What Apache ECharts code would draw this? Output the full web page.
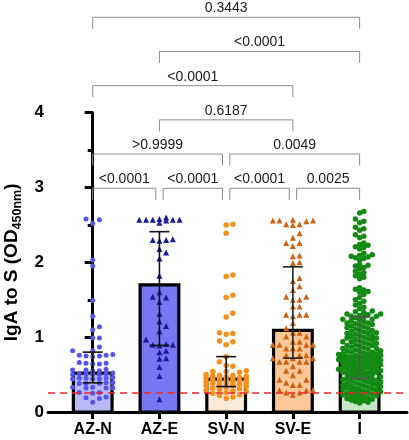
<!DOCTYPE html>
<html><head><meta charset="utf-8">
<script src="https://cdn.jsdelivr.net/npm/echarts@6/dist/echarts.min.js"></script>
<style>html,body{margin:0;padding:0;background:#fff}#c{width:409px;height:440px}</style>
</head><body><div id="c"></div>
<script>
// ---------------- data ----------------
const categories = ['AZ-N', 'AZ-E', 'SV-N', 'SV-E', 'I'];
const barValues = [0.52, 1.70, 0.44, 1.09, 0.73];
const errLow = [0.39, 0.89, 0.34, 0.72, 0.45];
const errHigh = [0.80, 2.41, 0.74, 1.94, 1.27];
const cutoff = 0.26;
const yTickValues = [0, 1, 2, 3, 4];

const ptsAZN = [2.58, 2.57, 2.52, 2.03, 1.95, 1.49, 1.28, 1.14, 1.10, 0.99, 0.99, 0.87, 0.82, 0.82,
  0.77, 0.76, 0.76, 0.75, 0.75, 0.74, 0.66, 0.65, 0.65, 0.64, 0.64, 0.57, 0.56, 0.56, 0.55, 0.55,
  0.52, 0.51, 0.51, 0.51, 0.50, 0.50, 0.50, 0.46, 0.45, 0.45, 0.45, 0.44, 0.44, 0.44, 0.39, 0.39,
  0.38, 0.38, 0.38, 0.33, 0.33, 0.32, 0.32, 0.32, 0.26, 0.26, 0.25, 0.20, 0.19, 0.18, 0.13];
const ptsAZE = [2.60, 2.58, 2.57, 2.57, 2.57, 2.57, 2.57, 2.56, 2.53, 2.31, 2.30, 2.30, 2.29, 2.18,
  2.13, 2.05, 1.82, 1.60, 1.54, 1.53, 1.47, 1.31, 1.21, 1.15, 1.08, 0.97, 0.91, 0.90, 0.90, 0.89,
  0.82, 0.80, 0.72, 0.71, 0.60, 0.48, 0.17];
const ptsSVN = [2.51, 2.50, 2.39, 1.83, 1.81, 1.56, 1.53, 1.32, 1.27, 1.06, 1.05, 1.04, 0.95, 0.94,
  0.90, 0.74, 0.67, 0.62, 0.61, 0.55, 0.54, 0.54, 0.53, 0.50, 0.49, 0.49, 0.48, 0.48, 0.47, 0.46,
  0.45, 0.45, 0.44, 0.43, 0.43, 0.42, 0.41, 0.41, 0.40, 0.40, 0.39, 0.38, 0.38, 0.37, 0.36, 0.35,
  0.35, 0.34, 0.33, 0.32, 0.31, 0.30, 0.29, 0.28, 0.27, 0.26, 0.25, 0.23, 0.22, 0.20, 0.18];
const ptsSVE = [2.57, 2.56, 2.56, 2.56, 2.55, 2.51, 2.51, 2.50, 2.39, 2.33, 2.26, 2.26, 2.22, 2.09,
  2.08, 2.00, 1.99, 1.79, 1.75, 1.68, 1.63, 1.54, 1.54, 1.50, 1.50, 1.41, 1.41, 1.30, 1.30, 1.30,
  1.28, 1.19, 1.12, 1.06, 1.06, 1.01, 1.01, 0.94, 0.94, 0.90, 0.90, 0.90, 0.90, 0.85, 0.85, 0.85,
  0.76, 0.76, 0.76, 0.72, 0.72, 0.72, 0.67, 0.67, 0.67, 0.67, 0.61, 0.55, 0.55, 0.49, 0.43, 0.43,
  0.39, 0.36, 0.36, 0.29, 0.29, 0.29, 0.26, 0.26, 0.23];
const ptsI = [2.68, 2.66, 2.58, 2.55, 2.53, 2.47, 2.45, 2.43, 2.37, 2.35, 2.33, 2.26, 2.24, 2.23,
  2.21, 2.20, 2.18, 2.12, 2.10, 2.09, 2.08, 2.07, 2.06, 2.05, 2.03, 1.97, 1.96, 1.95, 1.93, 1.91,
  1.88, 1.86, 1.84, 1.82, 1.80, 1.78, 1.66, 1.64, 1.63, 1.61, 1.60, 1.57, 1.53, 1.50, 1.48, 1.45,
  1.43, 1.40, 1.38,
  1.35, 1.34, 1.33, 1.31, 1.31, 1.30, 1.29, 1.28, 1.28, 1.27, 1.26, 1.24, 1.24, 1.23, 1.22, 1.21,
  1.19, 1.19, 1.18, 1.17, 1.16, 1.15,
  1.14, 1.13, 1.12, 1.11, 1.09, 1.09, 1.08, 1.07, 1.06, 1.05, 1.05, 1.04, 1.02, 1.02, 1.01, 1.00,
  0.99, 0.99, 0.98, 0.97, 0.96, 0.95, 0.94, 0.94, 0.93, 0.92, 0.91, 0.90, 0.89, 0.89, 0.88, 0.87,
  0.86, 0.85, 0.85, 0.84, 0.83, 0.82, 0.82, 0.81, 0.80, 0.80, 0.79, 0.78, 0.78, 0.77, 0.77, 0.76,
  0.76, 0.75,
  0.74, 0.74, 0.73, 0.73, 0.72, 0.72, 0.71, 0.70, 0.70, 0.69, 0.69, 0.68, 0.68, 0.67, 0.66, 0.66,
  0.65, 0.65, 0.64, 0.63, 0.63, 0.62, 0.62, 0.61, 0.60, 0.60, 0.59, 0.59, 0.58, 0.57, 0.57, 0.56,
  0.56, 0.55, 0.55, 0.54, 0.53, 0.53, 0.52, 0.52, 0.51, 0.50, 0.50, 0.49, 0.48, 0.47, 0.46, 0.46,
  0.45, 0.44, 0.44, 0.43, 0.42, 0.42, 0.41, 0.40, 0.40, 0.39, 0.38, 0.38, 0.37, 0.36, 0.36, 0.35,
  0.34, 0.34, 0.33, 0.32, 0.32, 0.31, 0.30, 0.30, 0.29, 0.28, 0.28, 0.27, 0.26, 0.26, 0.25, 0.24,
  0.24, 0.23, 0.22, 0.22, 0.21, 0.20, 0.19, 0.18, 0.18, 0.17, 0.16, 0.15, 0.14, 0.13, 0.12];
const groupPoints = [ptsAZN, ptsAZE, ptsSVN, ptsSVE, ptsI];

// comparisons: [from category, to category, p-value label]
const comparisons = [
  [0, 1, '<0.0001'], [1, 2, '<0.0001'], [2, 3, '<0.0001'], [3, 4, '0.0025'],
  [0, 2, '>0.9999'], [2, 4, '0.0049'],
  [1, 3, '0.6187'],
  [0, 3, '<0.0001'],
  [1, 4, '<0.0001'],
  [0, 4, '0.3443']
];
const comparisonRows = [0, 0, 0, 0, 1, 1, 2, 3, 4, 5];

// ---------------- styles ----------------
const FONT = 'Liberation Sans, Arial, sans-serif';
const barFill = ['#b9b9f6', '#7777f3', '#fdeadb', '#fcc898', '#c5e7c5'];
const ptColor = ['#5454ec', '#1a1a9c', '#f7901c', '#cf6212', '#138a13'];
const ptSymbol = ['circle', 'triangle', 'circle', 'triangle', 'circle'];
const ptSize = [5, 6, 5.5, 6, 5.5];
const errColor = ['#111', '#111', '#111', '#222', '#555'];

const chart = echarts.init(document.getElementById('c'), null, {renderer: 'canvas'});

const baseOption = {
  animation: false,
  backgroundColor: '#fff',
  grid: {left: 48, right: 2, top: 112.7, bottom: 28, containLabel: false, outerBoundsMode: 'none'},
  xAxis: {
    type: 'value', min: -0.67, max: 4.71,
    splitLine: {show: false},
    axisLine: {show: true, onZero: false, lineStyle: {color: '#000', width: 3}},
    axisTick: {show: true, customValues: [0, 1, 2, 3, 4], length: 7, lineStyle: {color: '#000', width: 3}},
    axisLabel: {
      customValues: [0, 1, 2, 3, 4],
      formatter: v => categories[Math.round(v)],
      color: '#000', fontWeight: 'bold', fontSize: 16, fontFamily: FONT, margin: 10
    }
  },
  yAxis: {
    type: 'value', min: 0, max: 4, interval: 1,
    splitLine: {show: false},
    axisLine: {show: true, lineStyle: {color: '#000', width: 3}},
    axisTick: {show: true, length: 8, lineStyle: {color: '#000', width: 3}},
    minorTick: {show: true, splitNumber: 2, length: 5, lineStyle: {color: '#000', width: 3}},
    axisLabel: {
      color: '#000', fontWeight: 'bold', fontSize: 17, fontFamily: FONT, margin: 4,
      formatter: v => (yTickValues.indexOf(v) >= 0 ? String(v) : '')
    },
    name: '{a|IgA to S (OD}{b|450nm}{a|)}',
    nameLocation: 'middle', nameRotate: 90, nameGap: 22,
    nameTextStyle: {
      rich: {
        a: {fontSize: 19, fontWeight: 'bold', fontFamily: FONT, color: '#000'},
        b: {fontSize: 12.5, fontWeight: 'bold', fontFamily: FONT, color: '#000', verticalAlign: 'bottom', padding: [10, 0, 0, 0]}
      }
    }
  },
  series: []
};
chart.setOption(baseOption);

const p0 = chart.convertToPixel({gridIndex: 0}, [0, 0]);
const p1 = chart.convertToPixel({gridIndex: 0}, [1, 1]);
const pxX = p1[0] - p0[0];
const pxY = p0[1] - p1[1];

// beeswarm layout (deterministic)
function swarm(vals, center, step, maxK, dmin) {
  const sorted = vals.slice().sort((a, b) => a - b);
  const placed = [];
  const out = [];
  const order = [0];
  for (let k = 1; k <= maxK; k++) order.push(k, -k);
  for (const v of sorted) {
    const py = v * pxY;
    let best = 0, bestD = -1;
    for (const k of order) {
      const px = k * step;
      let md = Infinity;
      for (const p of placed) {
        const dy = p[1] - py;
        if (Math.abs(dy) >= dmin) continue;
        const d = Math.hypot(p[0] - px, dy);
        if (d < md) md = d;
      }
      if (md >= dmin) { best = px; bestD = md; break; }
      if (md > bestD) { bestD = md; best = px; }
    }
    placed.push([best, py]);
    out.push([center + best / pxX, v]);
  }
  return out;
}

const swarmCfg = [[6.7, 3, 5.6], [6.7, 3, 6], [6.7, 3, 5.6], [6.7, 3, 6], [4.2, 5, 4.3]];

const series = [];
// bars
series.push({
  type: 'custom', name: 'bars', z: 1,
  data: categories.map((c, i) => [i, barValues[i]]),
  renderItem: (params, api) => {
    const i = api.value(0), v = api.value(1);
    const hw = 0.29;
    const a = api.coord([i - hw, v]);
    const b = api.coord([i + hw, 0]);
    return {type: 'rect', shape: {x: a[0], y: a[1], width: b[0] - a[0], height: b[1] - a[1]},
      style: {fill: barFill[i], stroke: '#000', lineWidth: 3.2}};
  }
});
// cutoff line
series.push({
  type: 'line', name: 'cutoff', z: 2, data: [], silent: true,
  markLine: {
    silent: true, symbol: ['none', 'none'], label: {show: false},
    lineStyle: {color: '#e8262b', type: [7, 5], width: 1.5},
    data: [{yAxis: cutoff}]
  }
});
// points
groupPoints.forEach((pts, i) => {
  const cfg = swarmCfg[i];
  series.push({
    type: 'scatter', name: categories[i], z: 3,
    symbol: ptSymbol[i], symbolSize: ptSize[i],
    itemStyle: {color: ptColor[i], opacity: 1},
    data: swarm(pts, i, cfg[0], cfg[1], cfg[2])
  });
});
// error bars
series.push({
  type: 'custom', name: 'err', z: 4,
  data: categories.map((c, i) => [i, errLow[i], errHigh[i]]),
  renderItem: (params, api) => {
    const i = api.value(0);
    const lo = api.coord([i, api.value(1)]);
    const hi = api.coord([i, api.value(2)]);
    const cw = 10;
    const st = {stroke: errColor[i], lineWidth: 1.6};
    return {type: 'group', children: [
      {type: 'line', shape: {x1: lo[0], y1: lo[1], x2: hi[0], y2: hi[1]}, style: st},
      {type: 'line', shape: {x1: lo[0] - cw, y1: lo[1], x2: lo[0] + cw, y2: lo[1]}, style: st},
      {type: 'line', shape: {x1: hi[0] - cw, y1: hi[1], x2: hi[0] + cw, y2: hi[1]}, style: st}
    ]};
  }
});
// significance brackets
series.push({
  type: 'custom', name: 'brackets', z: 5, clip: false,
  data: comparisons.map((c, k) => [c[0], c[1], k]),
  encode: {x: [0, 1]},
  renderItem: (params, api) => {
    const k = api.value(2);
    const [from, to, label] = comparisons[k];
    const row = comparisonRows[k];
    const shared = (cat) => comparisons.some((o, j) => j !== k && comparisonRows[j] === row && (o[0] === cat || o[1] === cat));
    const gap = 0.055;
    const x1 = from + (shared(from) ? gap : 0);
    const x2 = to - (shared(to) ? gap : 0);
    const baseY = api.coord([0, 2.99])[1];
    const y = baseY - row * 34.2;
    const a = api.coord([x1, 0])[0];
    const b = api.coord([x2, 0])[0];
    const leg = 11.5;
    const st = {stroke: '#8c8c8c', lineWidth: 1};
    return {type: 'group', children: [
      {type: 'polyline', shape: {points: [[a, y + leg], [a, y], [b, y], [b, y + leg]]}, style: {...st, fill: null}},
      {type: 'text', style: {text: label, x: (a + b) / 2, y: y - 2, align: 'center', verticalAlign: 'bottom',
        fontSize: 14, fontFamily: FONT, fill: '#1a1a1a'}}
    ]};
  }
});

chart.setOption({series: series});
</script>
</body></html>
